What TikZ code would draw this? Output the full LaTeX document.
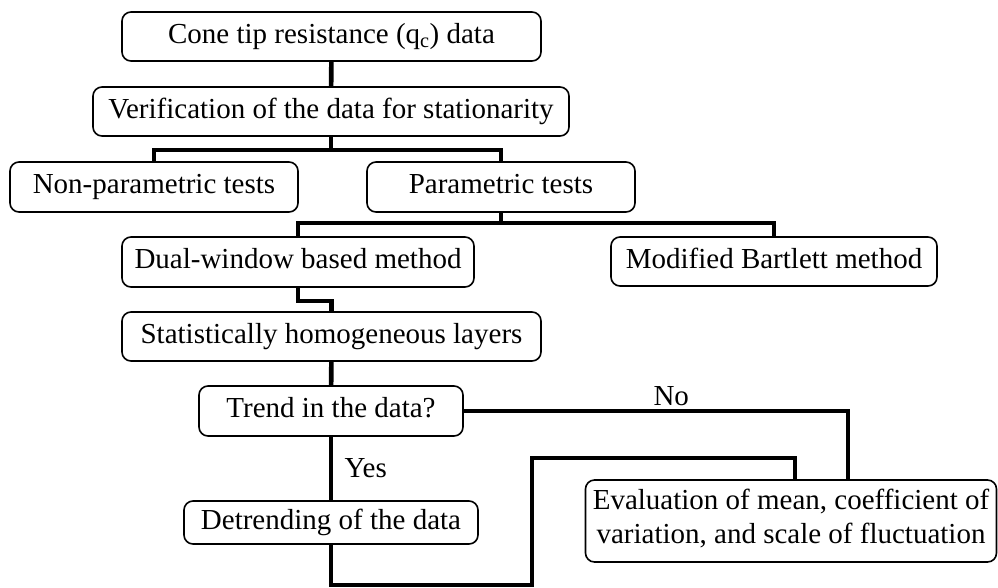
\documentclass[tikz,border=0pt]{standalone}
\usepackage{fontspec}
\setmainfont{Liberation Serif}

\tikzset{
  stage/.style={draw, line width=1.6pt, rounded corners=9pt, inner sep=2pt,
    align=center, font=\fontsize{29}{34}\selectfont,
    execute at begin node={\strut}},
  tag/.style={font=\fontsize{29}{34}\selectfont},
  link/.style={line width=4.6pt},
}

\begin{document}
\begin{tikzpicture}[x=1pt,y=-1pt]
\useasboundingbox (0,0) rectangle (998,587);

\node[stage, minimum width=419pt, minimum height=49pt] (cone) at (331.5,36.5) {Cone tip resistance (q\textsubscript{c}) data};
\node[stage, minimum width=476pt, minimum height=49pt] (verif) at (331,111.5) {Verification of the data for stationarity};
\node[stage, minimum width=288pt, minimum height=50pt] (nonpar) at (154,187) {Non-parametric tests};
\node[stage, minimum width=268pt, minimum height=50pt] (par) at (501,187) {Parametric tests};
\node[stage, minimum width=352pt, minimum height=50pt] (dual) at (298,262) {Dual-window based method};
\node[stage, minimum width=326pt, minimum height=49pt] (bart) at (774,261.5) {Modified Bartlett method};
\node[stage, minimum width=419pt, minimum height=49pt] (homog) at (331.5,336.5) {Statistically homogeneous layers};
\node[stage, minimum width=264pt, minimum height=50pt] (trend) at (331,411) {Trend in the data?};
\node[stage, minimum width=294pt, minimum height=43pt] (detrend) at (331,522.5) {Detrending of the data};
\node[stage, minimum width=411pt, minimum height=82pt] (evalu) at (791,521) {Evaluation of mean, coefficient of\\variation, and scale of fluctuation};

\coordinate (split1) at (331,150);
\coordinate (split2) at (501,223);
\coordinate (loopdown) at (532,585);
\coordinate (loopup) at (532,458);

\draw[link] (cone) -- (verif);
\draw[link] (verif) -- (split1);
\draw[link] (nonpar.north) |- (split1) -| (par.north);
\draw[link] (par) -- (split2);
\draw[link] (dual.north) |- (split2) -| (bart.north);
\draw[link] (dual.south) -- ++(0,13) -| (homog.north);
\draw[link] (homog) -- (trend);
\draw[link] (trend) -- node[tag, right=8pt] {Yes} (detrend);
\draw[link] (trend.east) -| node[tag, pos=0.27, above] {No} ([xshift=57pt]evalu.north);
\draw[link] (detrend.south) |- (loopdown) -- (loopup) -| ([xshift=4pt]evalu.north);
\end{tikzpicture}
\end{document}
